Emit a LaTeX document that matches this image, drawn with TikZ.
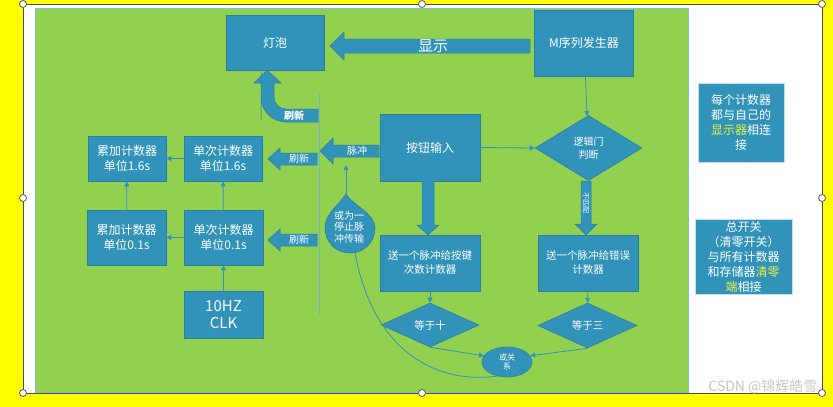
\documentclass[tikz,border=0pt]{standalone}
\usepackage{fontspec}
\setmainfont{Noto Sans CJK SC}
\usetikzlibrary{arrows.meta,shapes.geometric}
\definecolor{boxblue}{HTML}{3293BA}
\definecolor{boxedge}{HTML}{2A7EA2}
\definecolor{leaf}{HTML}{92D050}
\definecolor{hilite}{HTML}{E6F23C}
\definecolor{paper}{HTML}{FFFF00}

\begin{document}
\begin{tikzpicture}[
  x=1pt, y=-1pt,
  font=\fontsize{12}{15}\selectfont,
  box/.style={
    draw=boxedge,
    fill=boxblue,
    text=white,
    align=center,
    inner sep=2pt,
    line width=0.6pt
  },
  small/.style={font=\fontsize{10.5}{14}\selectfont},
  choice/.style={box, diamond, inner sep=0pt, small},
  blockarrow/.style={fill=boxblue, draw=boxedge, line width=0.5pt},
  arrowtext/.style={text=white, inner sep=0pt, font=\fontsize{10}{12}\selectfont},
  link/.style={-{Triangle[length=5pt,width=5pt]}, draw=boxblue, line width=0.8pt},
  handle/.style={circle, draw=black!65, fill=white, line width=0.8pt, inner sep=0pt, minimum size=7pt}
]

% frame and sheet
\fill[paper] (0,0) rectangle (833,407);
\useasboundingbox (0,0) rectangle (833,407);
\draw[black!70, fill=white, line width=1pt] (23,4) rectangle (822,393);
\draw[leaf, fill=leaf] (35,8) rectangle (688,392);
\draw[boxblue!60, line width=0.5pt] (35,8) rectangle (688,392);

% boxes
\node[box, minimum width=98, minimum height=55] (bulb) at (275,42.5) {灯泡};
\node[box, minimum width=99, minimum height=66] (mseq) at (584,43) {M序列发生器};
\node[choice, minimum width=107, minimum height=65, font=\fontsize{10}{13}\selectfont] (logic) at (588.5,148) {逻辑门\\判断};
\node[box, minimum width=100, minimum height=67] (button) at (430,147.5) {按钮输入};
\node[box, small, minimum width=100, minimum height=56] (send1) at (430,263) {送一个脉冲给按键\\次数计数器};
\node[box, small, minimum width=100, minimum height=56] (send2) at (588,263) {送一个脉冲给错误\\计数器};
\node[choice, minimum width=98, minimum height=44] (eq10) at (430,325) {等于十};
\node[choice, minimum width=99, minimum height=45] (eq3) at (587.5,325.5) {等于三};
\node[box, ellipse, inner sep=0pt, minimum width=50, minimum height=30,
  font=\fontsize{8}{9}\selectfont] (orrel) at (507,362) {或关\\系};

\node[box, minimum width=78, minimum height=45] (acc16) at (127,158.5) {累加计数器\\单位1.6s};
\node[box, minimum width=78, minimum height=45] (one16) at (223,158.5) {单次计数器\\单位1.6s};
\node[box, minimum width=79, minimum height=55] (acc01) at (126.5,237.5) {累加计数器\\单位0.1s};
\node[box, minimum width=79, minimum height=55] (one01) at (223.5,237.5) {单次计数器\\单位0.1s};
\node[box, minimum width=79, minimum height=47, font=\fontsize{15}{17}\selectfont] (clk) at (223.5,314.5) {10HZ\\CLK};

\node[box, draw=white!70!boxblue, minimum width=86, minimum height=79] (note1) at (741,122.5)
  {每个计数器\\都与自己的\\\textcolor{hilite}{显示器}相连\\接};
\node[box, draw=white!70!boxblue, minimum width=97, minimum height=73] (note2) at (743.5,256.5)
  {总开关\\（清零开关）\\与所有计数器\\和存储器\textcolor{hilite}{清零}\\\textcolor{hilite}{端}相接};

% block arrows
\draw[blockarrow] (330,46) -- (344,32) -- (344,39) -- (530,39) -- (530,53) -- (344,53) -- (344,60) -- cycle;
\node[arrowtext, font=\fontsize{15}{17}\selectfont] (showlbl) at (433,46) {显示};

\draw[blockarrow] (320,151) -- (333,138) -- (333,145) -- (379,145) -- (379,157) -- (333,157) -- (333,164) -- cycle;
\node[arrowtext] (pulselbl) at (357,151) {脉冲};

\draw[blockarrow] (268,159) -- (280,148) -- (280,153) -- (317,153) -- (317,165) -- (280,165) -- (280,170) -- cycle;
\node[arrowtext] (fresh1) at (299,159) {刷新};
\draw[blockarrow] (268,240) -- (280,229) -- (280,234) -- (317,234) -- (317,246) -- (280,246) -- (280,251) -- cycle;
\node[arrowtext] (fresh2) at (299,240) {刷新};

\draw[blockarrow] (267,70) -- (281,83) -- (274,83) -- (274,90) [rounded corners=12pt] -- (274,109)
  -- (300,109) [sharp corners] -- (318,109) -- (318,122) -- (300,122) [rounded corners=25pt]
  -- (261,122) -- (261,95) [sharp corners] -- (261,83) -- (254,83) -- cycle;
\node[arrowtext, font=\bfseries\fontsize{10}{12}\selectfont] (fresh0) at (294,116) {刷新};

\draw[blockarrow] (422,181) -- (434,181) -- (434,225) -- (439,225) -- (428,235) -- (417,225) -- (422,225) -- cycle;
\draw[blockarrow] (581,181) -- (591,181) -- (591,224) -- (597,224) -- (586,235) -- (575,224) -- (581,224) -- cycle;
\node[arrowtext, rotate=-90, font=\fontsize{7}{8}\selectfont] (nomatch) at (586,203) {不匹配};

% drop
\draw[box] (346,194) .. controls (338,206) and (325,214) .. (325,228)
  .. controls (325,242) and (336,253) .. (350,253)
  .. controls (364,253) and (375,242) .. (375,228)
  .. controls (375,214) and (354,206) .. (346,194);
\node[arrowtext, align=center, font=\fontsize{10}{11.7}\selectfont] (drop) at (349,227) {或为一\\停止脉\\冲传输};
\coordinate (droptip) at (346,194);
\coordinate (dropbot) at (355,253);
\coordinate (pulsebot) at (346,165);

% divider
\coordinate (divtop) at (319,93);
\coordinate (divbot) at (319,315);
\draw[boxblue!70, line width=0.8pt] (divtop) -- (divbot);

% connectors
\draw[link] (mseq) -- (logic);
\draw[link] (button.east) -- (logic.west);
\draw[link] (one16) -- (acc16);
\draw[link] (one01) -- (acc01);
\draw[link] (acc01) -- (acc16);
\draw[link] (one01) -- (one16);
\draw[link] (clk) -- (one01);
\draw[link] (send1) -- (eq10);
\draw[link] (send2) -- (eq3);
\draw[link] (eq10.south) -- (orrel.165);
\draw[link] (eq3.south) -- (orrel.15);
\draw[link] (droptip) -- (pulsebot);
\draw[boxblue, line width=0.8pt] (orrel.235) .. controls (430,385) and (372,345) .. (dropbot);

% selection handles
\foreach \hx/\hy [count=\i] in {23/4, 422/4, 822/4, 23/198, 822/198, 23/393, 422/393, 822/393}
  \node[handle] (hd\i) at (\hx,\hy) {};

\node[text=white!78!black, font=\fontsize{14}{16}\selectfont, anchor=east] (mark) at (821,387) {CSDN @锦辉皓雪};

\end{tikzpicture}
\end{document}
